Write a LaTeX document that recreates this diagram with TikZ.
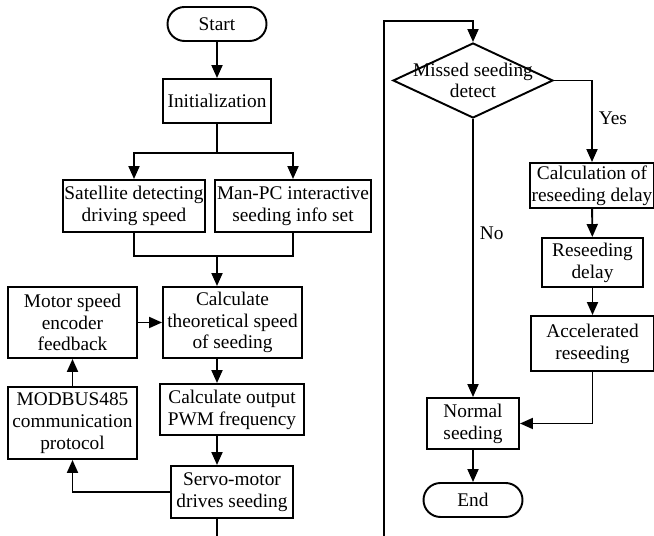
\documentclass[tikz,border=0pt]{standalone}
\usepackage{fontspec}
\setmainfont{Liberation Serif}
\usetikzlibrary{arrows.meta,shapes.geometric,positioning}
\begin{document}
\begin{tikzpicture}[auto, line width=1.1pt, >={Triangle[length=2.6mm,width=2.2mm]},
                main/.style = {draw, rectangle, align=center, inner sep=1pt, font=\fontsize{11}{12.4}\selectfont},
                term/.style = {main, rounded corners=3.4mm, minimum width=1.98cm, minimum height=0.68cm},
                dec/.style = {main, diamond, aspect=2.13, inner sep=-1.6mm}]
                \useasboundingbox (0,0) rectangle (13.08,10.72);
                \clip (0,0) rectangle (13.08,10.72);
                % left column
                \node[term] (1) at (4.34,10.24) {Start};
                \node[main, minimum width=2.16cm, minimum height=0.88cm] (2) at (4.34,8.70) {Initialization};
                \node[main, minimum width=2.76cm, minimum height=1.04cm] (3) at (2.68,6.60) {Satellite detecting\\driving speed};
                \node[main, minimum width=3.08cm, minimum height=1.04cm] (4) at (5.86,6.60) {Man-PC interactive\\seeding info set};
                \node[main, minimum width=2.58cm, minimum height=1.42cm] (5) at (1.45,4.27) {Motor speed\\encoder\\feedback};
                \node[main, minimum width=2.78cm, minimum height=1.42cm] (6) at (4.65,4.27) {Calculate\\theoretical speed\\of seeding};
                \node[main, minimum width=2.88cm, minimum height=1.02cm] (7) at (4.64,2.53) {Calculate output\\PWM frequency};
                \node[main, minimum width=2.58cm, minimum height=1.44cm] (8) at (1.45,2.26) {MODBUS485\\communication\\protocol};
                \node[main, minimum width=2.44cm, minimum height=1.04cm] (9) at (4.64,0.88) {Servo-motor\\drives seeding};
                % right column
                \node[dec, minimum width=3.2cm, minimum height=1.5cm] (10) at (9.46,9.11) {Missed seeding\\detect};
                \node[main, minimum width=2.32cm, minimum height=0.90cm] (11) at (11.84,7.01) {Calculation of\\reseeding delay};
                \node[main, minimum width=2.02cm, minimum height=0.98cm] (12) at (11.85,5.47) {Reseeding\\delay};
                \node[main, minimum width=2.46cm, minimum height=1.10cm] (13) at (11.85,3.85) {Accelerated\\reseeding};
                \node[main, minimum width=1.84cm, minimum height=1.02cm] (14) at (9.46,2.25) {Normal\\seeding};
                \node[term] (15) at (9.46,0.72) {End};
                \coordinate (split) at (4.34,7.66);
                \coordinate (merge) at (4.34,5.60);
                \coordinate (loop) at (7.68,10.30);
                \path[->]
                    (1) edge (2)
                    (8) edge (5)
                    (5) edge (6)
                    (11) edge (12)
                    (12) edge (13)
                    (14) edge (15);
                \draw (2) -- (split);
                \draw[->] (split) -| (3);
                \draw[->] (split) -| (4);
                \draw (3) |- (merge);
                \draw (4) |- (merge);
                \draw[->] (merge) -- (merge |- 6.north);
                \draw[->] (6.south -| merge) -- (7.north -| merge);
                \draw[->] (7.south -| merge) -- (9.north -| merge);
                \draw[->] (9) -| (8);
                \draw[->] (9.south -| merge) -- ++(0,-1) -| (loop) -| (10.north);
                \draw[->] (10.east) -| node[pos=0.73, right, font=\fontsize{11}{12.4}\selectfont] {Yes} (11);
                \draw[->] (10) -- node[pos=0.41, right, font=\fontsize{11}{12.4}\selectfont] {No} (14);
                \draw[->] (13) |- (14);
            \end{tikzpicture}
\end{document}
